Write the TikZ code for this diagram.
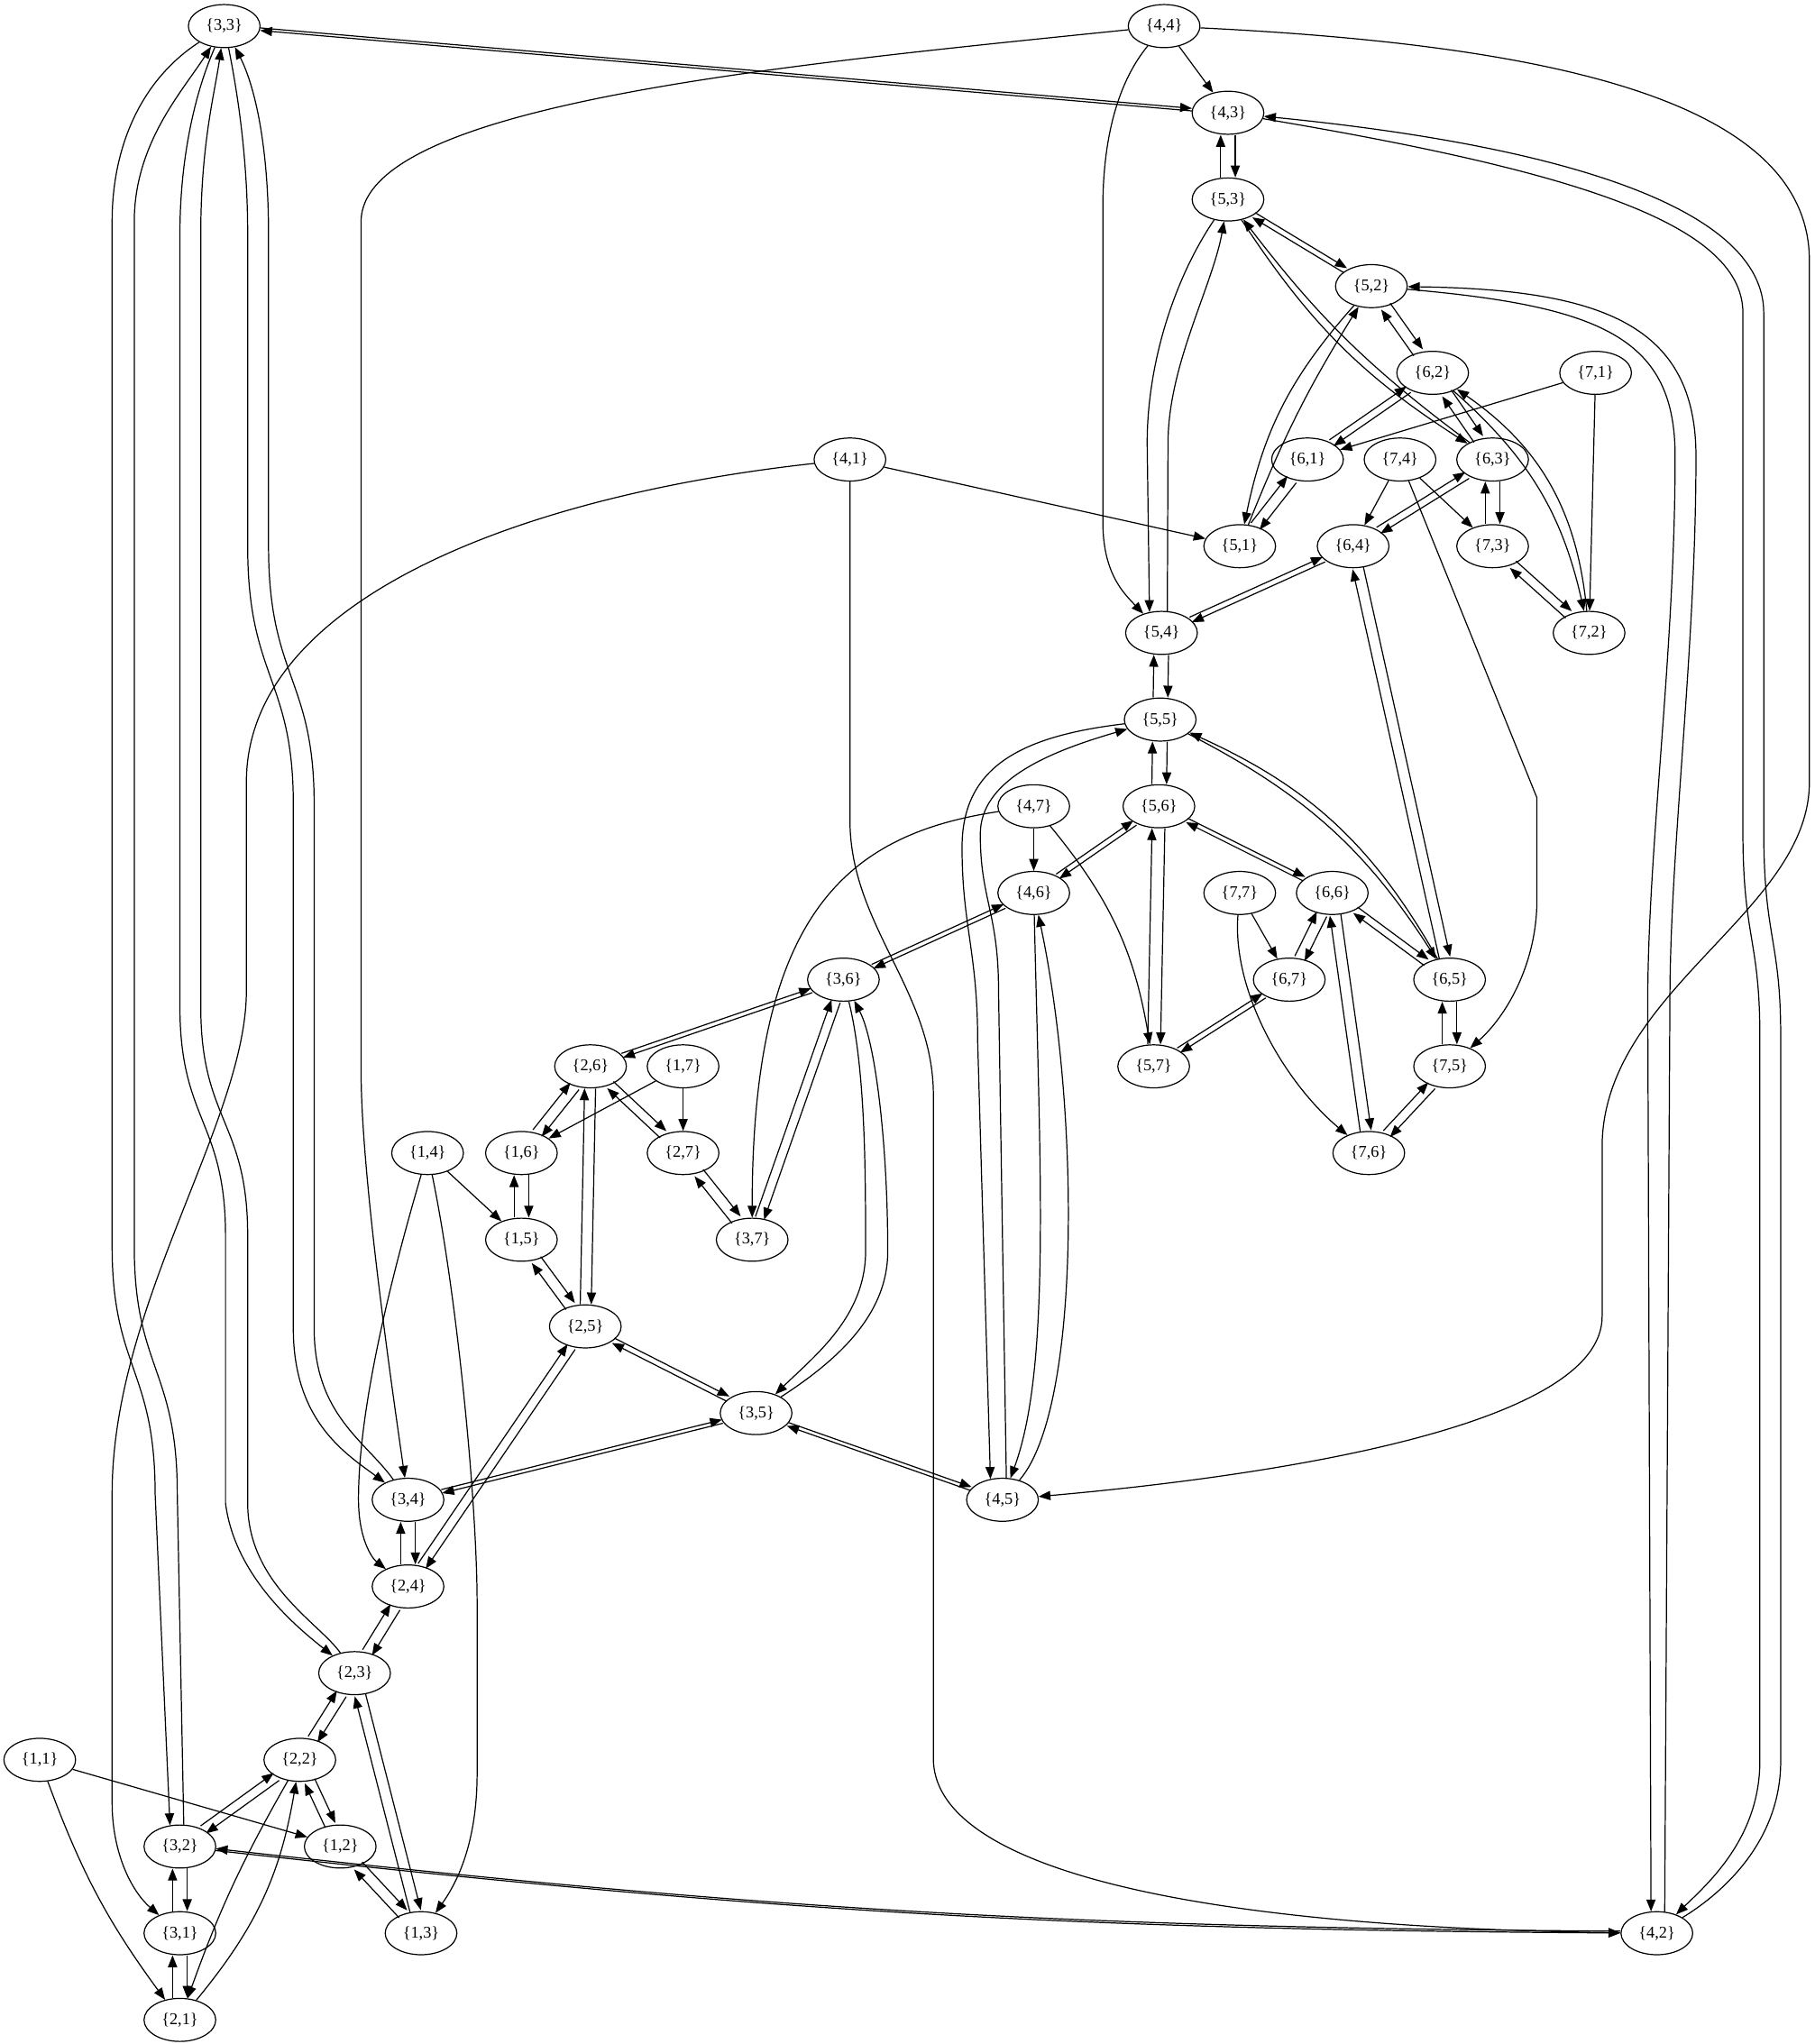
\documentclass[tikz,border=0pt]{standalone}
\usepackage{fontspec}
\setmainfont{Liberation Serif}
\usetikzlibrary{arrows.meta,shapes.geometric}
\begin{document}
\begin{tikzpicture}[x=0.025cm, y=-0.025cm, line width=0.6pt,
    >={Triangle[length=6.5pt,width=5pt]},
    st/.style={draw, ellipse, minimum width=1.375cm, minimum height=0.825cm,
      inner sep=0pt, font=\fontsize{9}{10}\selectfont}]
    \useasboundingbox (0,0) rectangle (1392,1568);

    % 1. Cac dinh, theo tung hang
    \node[st] (n33) at (172,20) {\{3,3\}};
    \node[st] (n44) at (893,20) {\{4,4\}};
    \node[st] (n43) at (942,86.5) {\{4,3\}};
    \node[st] (n53) at (942,153) {\{5,3\}};
    \node[st] (n52) at (1052,219.5) {\{5,2\}};
    \node[st] (n62) at (1099,286) {\{6,2\}};
    \node[st] (n71) at (1224,286) {\{7,1\}};
    \node[st] (n41) at (652,352.5) {\{4,1\}};
    \node[st] (n61) at (1003,352.5) {\{6,1\}};
    \node[st] (n74) at (1074,352.5) {\{7,4\}};
    \node[st] (n63) at (1145,352.5) {\{6,3\}};
    \node[st] (n51) at (951,419) {\{5,1\}};
    \node[st] (n64) at (1038,419) {\{6,4\}};
    \node[st] (n73) at (1145,419) {\{7,3\}};
    \node[st] (n54) at (891,485.5) {\{5,4\}};
    \node[st] (n72) at (1219,485.5) {\{7,2\}};
    \node[st] (n55) at (890,552) {\{5,5\}};
    \node[st] (n47) at (793,618.5) {\{4,7\}};
    \node[st] (n56) at (889,618.5) {\{5,6\}};
    \node[st] (n46) at (793,685) {\{4,6\}};
    \node[st] (n77) at (951,685) {\{7,7\}};
    \node[st] (n66) at (1022,685) {\{6,6\}};
    \node[st] (n36) at (647,751.5) {\{3,6\}};
    \node[st] (n67) at (989,751.5) {\{6,7\}};
    \node[st] (n65) at (1112,751.5) {\{6,5\}};
    \node[st] (n26) at (453,818) {\{2,6\}};
    \node[st] (n17) at (524,818) {\{1,7\}};
    \node[st] (n57) at (885,818) {\{5,7\}};
    \node[st] (n75) at (1112,818) {\{7,5\}};
    \node[st] (n14) at (328,884.5) {\{1,4\}};
    \node[st] (n16) at (400,884.5) {\{1,6\}};
    \node[st] (n27) at (524,884.5) {\{2,7\}};
    \node[st] (n76) at (1050,884.5) {\{7,6\}};
    \node[st] (n15) at (400,951) {\{1,5\}};
    \node[st] (n37) at (577,951) {\{3,7\}};
    \node[st] (n25) at (449,1017.5) {\{2,5\}};
    \node[st] (n35) at (580,1084) {\{3,5\}};
    \node[st] (n34) at (313,1150.5) {\{3,4\}};
    \node[st] (n45) at (769,1150.5) {\{4,5\}};
    \node[st] (n24) at (313,1217) {\{2,4\}};
    \node[st] (n23) at (272,1283.5) {\{2,3\}};
    \node[st] (n11) at (30.5,1350) {\{1,1\}};
    \node[st] (n22) at (230,1350) {\{2,2\}};
    \node[st] (n32) at (138,1416.5) {\{3,2\}};
    \node[st] (n12) at (261,1416.5) {\{1,2\}};
    \node[st] (n31) at (138,1483) {\{3,1\}};
    \node[st] (n13) at (323,1483) {\{1,3\}};
    \node[st] (n42) at (1271,1483) {\{4,2\}};
    \node[st] (n21) at (138,1549.5) {\{2,1\}};

    % 2. Canh mot chieu
    \draw[->] (n44) -- (n43);
    \draw[->] (n71) -- (n61);
    \draw[->] (n71) -- (n72);
    \draw[->] (n74) -- (n64);
    \draw[->] (n74) -- (n73);
    \draw[->] (n41) -- (n51);
    \draw[->] (n47) -- (n46);
    \draw[->] (n77) -- (n67);
    \draw[->] (n17) -- (n27);
    \draw[->] (n17) -- (n16);
    \draw[->] (n14) -- (n15);
    \draw[->] (n11) -- (n12);
    \draw[->] (n47) to[bend left=15] (n57);
    \draw[->] (n11) to[bend right=8] (n21);
    \draw[->] (n47) .. controls (650,640) and (577,700) .. (n37);
    \draw[->] (n77) .. controls (945,760) and (985,830) .. (n76);
    \draw[->] (n74) -- (1179,612) -- (1179,690) .. controls (1179,740) and (1155,780) .. (n75);
    \draw[->] (n14) .. controls (300,980) and (275,1080) .. (275,1150)
        .. controls (275,1180) and (285,1195) .. (n24);
    \draw[->] (n14) .. controls (350,990) and (366,1150) .. (366,1231) -- (366,1360)
        .. controls (366,1415) and (350,1445) .. (n13);
    \draw[->] (n44) .. controls (860,60) and (846,100) .. (846,160) -- (846,400)
        .. controls (846,440) and (862,455) .. (n54);
    \draw[->] (n44) .. controls (600,50) and (277,80) .. (277,170) -- (277,822)
        .. controls (277,900) and (300,1060) .. (n34);
    \draw[->] (n44) .. controls (1200,35) and (1388,80) .. (1388,200) -- (1388,600)
        .. controls (1388,700) and (1229,760) .. (1229,880) -- (1229,1010)
        .. controls (1229,1090) and (1000,1130) .. (n45);
    \draw[->] (n41) .. controls (400,380) and (189,460) .. (189,600) -- (189,760)
        .. controls (189,860) and (86,1000) .. (86,1146) -- (86,1383)
        .. controls (86,1420) and (100,1450) .. (n31);
    \draw[->] (n41) -- (652,629) .. controls (652,710) and (716,760) .. (716,840) -- (716,1349)
        .. controls (716,1430) and (900,1478) .. (n42);

    % 3. Canh hai chieu thang, hai net song song
    \foreach \a/\b/\s in {n33/n43/0.7pt, n43/n53/4pt, n53/n52/1.5pt, n52/n62/3pt,
        n62/n61/2pt, n62/n63/3pt, n61/n51/3pt, n63/n73/4pt, n63/n64/2pt,
        n73/n72/2.5pt, n64/n54/1.5pt, n54/n55/4pt, n55/n56/4pt, n56/n46/1.5pt,
        n56/n66/1.2pt, n46/n36/1.2pt, n66/n67/3pt, n66/n65/2pt, n67/n57/1.5pt,
        n65/n75/4pt, n75/n76/2.5pt, n36/n26/1.2pt, n26/n16/3pt, n26/n27/2.5pt,
        n27/n37/3pt, n16/n15/4pt, n15/n25/3pt, n25/n35/1.5pt, n35/n34/1pt,
        n35/n45/1pt, n34/n24/4pt, n24/n23/3pt, n23/n22/3pt, n22/n32/2.5pt,
        n22/n12/3pt, n32/n31/4pt, n31/n21/4pt, n12/n13/3pt, n56/n57/3.5pt,
        n66/n76/3pt, n36/n37/2.5pt, n26/n25/3pt, n25/n24/2.5pt, n23/n13/3pt,
        n64/n65/3pt} {
        \pgfmathanglebetweenpoints{\pgfpointanchor{\a}{center}}{\pgfpointanchor{\b}{center}}
        \let\ang\pgfmathresult
        \draw[->, transform canvas={shift={(\ang+90:\s)}}] (\a) -- (\b);
        \draw[->, transform canvas={shift={(\ang-90:\s)}}] (\b) -- (\a);
    }

    % 4. Canh hai chieu cong
    \draw[->] (n32) to[bend right=3] (n42);
    \draw[->, transform canvas={shift={(0,1pt)}}] (n42) to[bend left=3] (n32);
    \draw[->] (n53) to[bend right=12] (n63);
    \draw[->] (n63) to[bend left=8] (n53);
    \draw[->] (n52) to[bend right=15] (n51);
    \draw[->] (n51) to[bend left=5] (n52);
    \draw[->] (n62) to[bend left=18] (n72);
    \draw[->] (n72) to[bend right=25] (n62);
    \draw[->] (n55) to[bend left=15] (n65);
    \draw[->] (n65) to[bend right=18] (n55);
    \draw[->] (n22) to[bend right=5] (n21);
    \draw[->] (n21) to[bend right=15] (n22);

    \draw[->] (n53) .. controls (900,215) and (880,280) .. (880,340) -- (n54.120);
    \draw[->] (n54.75) -- (896,340) .. controls (896,280) and (930,220) .. (n53);

    \draw[->] (n46) .. controls (798,900) and (806,1050) .. (n45);
    \draw[->] (n45) .. controls (830,1080) and (828,850) .. (n46);

    \draw[->] (n36) .. controls (664,820) and (664,900) .. (664,960)
        .. controls (664,1010) and (625,1040) .. (n35);
    \draw[->] (n35) .. controls (640,1045) and (681,1010) .. (681,960)
        .. controls (681,880) and (672,800) .. (n36);

    \draw[->] (n55) .. controls (780,565) and (738,590) .. (738,650)
        .. controls (738,710) and (750,730) .. (750,800) -- (n45.120);
    \draw[->] (n45.80) -- (766,760) .. controls (766,700) and (752,690) .. (752,640)
        .. controls (752,600) and (800,578) .. (n55);

    % 5. Canh dai ben trai
    \draw[->] (n33) .. controls (110,60) and (86,110) .. (86,170) -- (86,956)
        .. controls (86,1050) and (119,1050) .. (119,1146) -- (n32.115);
    \draw[->] (n32.80) -- (136,1146) .. controls (136,1050) and (103,1050) .. (103,956)
        -- (103,170) .. controls (103,110) and (140,70) .. (n33);
    \draw[->] (n33) .. controls (150,70) and (138,120) .. (138,180) -- (138,772)
        .. controls (138,860) and (173,860) .. (173,948) -- (173,1153)
        .. controls (180,1210) and (230,1250) .. (n23);
    \draw[->] (n23) .. controls (245,1245) and (190,1215) .. (190,1153) -- (190,948)
        .. controls (190,860) and (154,860) .. (154,772) -- (154,180)
        .. controls (154,110) and (165,70) .. (n33);
    \draw[->] (n33) .. controls (182,70) and (190,120) .. (190,180) -- (190,419)
        .. controls (190,520) and (225,520) .. (225,617) -- (225,1019)
        .. controls (225,1090) and (265,1115) .. (n34);
    \draw[->] (n34) .. controls (280,1105) and (241,1085) .. (241,1019) -- (241,617)
        .. controls (241,520) and (206,520) .. (206,419) -- (206,180)
        .. controls (206,110) and (195,65) .. (n33);

    % 6. Canh dai ben phai
    \draw[->] (n43) .. controls (1200,130) and (1337,170) .. (1337,240) -- (1337,637)
        .. controls (1337,720) and (1350,720) .. (1350,795) -- (1350,1351)
        .. controls (1350,1410) and (1310,1445) .. (n42);
    \draw[->] (n42) .. controls (1325,1450) and (1366,1410) .. (1366,1351) -- (1366,795)
        .. controls (1366,720) and (1353,720) .. (1353,637) -- (1353,240)
        .. controls (1353,160) and (1200,112) .. (n43);
    \draw[->] (n52) .. controls (1230,235) and (1285,260) .. (1285,350)
        .. controls (1285,500) and (1264,650) .. (1264,769) -- (n42.105);
    \draw[->] (n42.70) -- (1281,769) .. controls (1281,650) and (1301,500) .. (1301,350)
        .. controls (1301,250) and (1230,222) .. (n52);
\end{tikzpicture}
\end{document}
